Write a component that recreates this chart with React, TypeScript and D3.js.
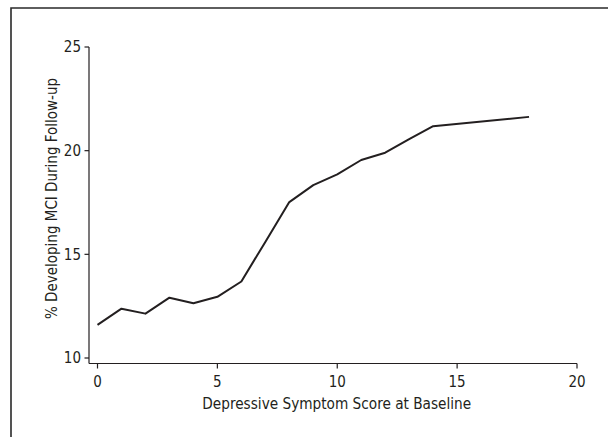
import React from "react";
import * as d3 from "d3";

const scores = [0, 1, 2, 3, 4, 5, 6, 7, 8, 9, 10, 11, 12, 13, 14, 18];
const pctMCI = [11.6, 12.38, 12.14, 12.91, 12.64, 12.95, 13.69, 15.6, 17.52, 18.34, 18.86, 19.55, 19.9, 20.56, 21.18, 21.63];
const xTicks = [0, 5, 10, 15, 20];
const yTicks = [10, 15, 20, 25];
const xLabel = "Depressive Symptom Score at Baseline";
const yLabel = "% Developing MCI During Follow-up";

const W = 608;
const H = 437;
const FONT = "'Liberation Sans Narrow', 'DejaVu Sans Condensed', 'Arial Narrow', sans-serif";

export default function App() {
  const x = d3.scaleLinear().domain([0, 20]).range([97.5, 577]);
  const y = d3.scaleLinear().domain([10, 25]).range([358, 47]);
  const line = d3
    .line<number>()
    .x((_, i) => x(scores[i]))
    .y((d) => y(d));
  const axisX0 = 89;
  const axisY0 = 363.5;
  const ink = "#231f20";
  return (
    <svg
      width={W}
      height={H}
      style={{ position: "absolute", left: 0, top: 0, background: "#fff", display: "block" }}
      fontFamily={FONT}
    >
      <rect x={0} y={0} width={W} height={H} fill="#fff" />
      <path d={`M11,${H} L11,8 L${W},8`} fill="none" stroke="#2a2a2a" strokeWidth={1.6} />
      {/* y axis */}
      <line x1={axisX0} x2={axisX0} y1={y(25)} y2={axisY0} stroke={ink} strokeWidth={1.2} />
      {yTicks.map((t) => (
        <g key={"y" + t}>
          <line x1={axisX0 - 4.5} x2={axisX0} y1={y(t)} y2={y(t)} stroke={ink} strokeWidth={1.2} />
          <text x={axisX0 - 8} y={y(t)} dy="0.35em" textAnchor="end" fontSize={15} fill={ink}>
            {t}
          </text>
        </g>
      ))}
      {/* x axis */}
      <line x1={axisX0} x2={x(20)} y1={axisY0} y2={axisY0} stroke={ink} strokeWidth={1.2} />
      {xTicks.map((t) => (
        <g key={"x" + t}>
          <line x1={x(t)} x2={x(t)} y1={axisY0} y2={axisY0 + 5} stroke={ink} strokeWidth={1.2} />
          <text x={x(t)} y={387} textAnchor="middle" fontSize={15} fill={ink}>
            {t}
          </text>
        </g>
      ))}
      <text x={(x(0) + x(20)) / 2 - 0.5} y={409} textAnchor="middle" fontSize={15.2} fill={ink}>
        {xLabel}
      </text>
      <text
        transform={`translate(57, ${(y(10) + y(25)) / 2 - 4}) rotate(-90)`}
        textAnchor="middle"
        fontSize={15}
        fill={ink}
      >
        {yLabel}
      </text>
      <path d={line(pctMCI) || ""} fill="none" stroke={ink} strokeWidth={2} strokeLinejoin="round" />
    </svg>
  );
}
